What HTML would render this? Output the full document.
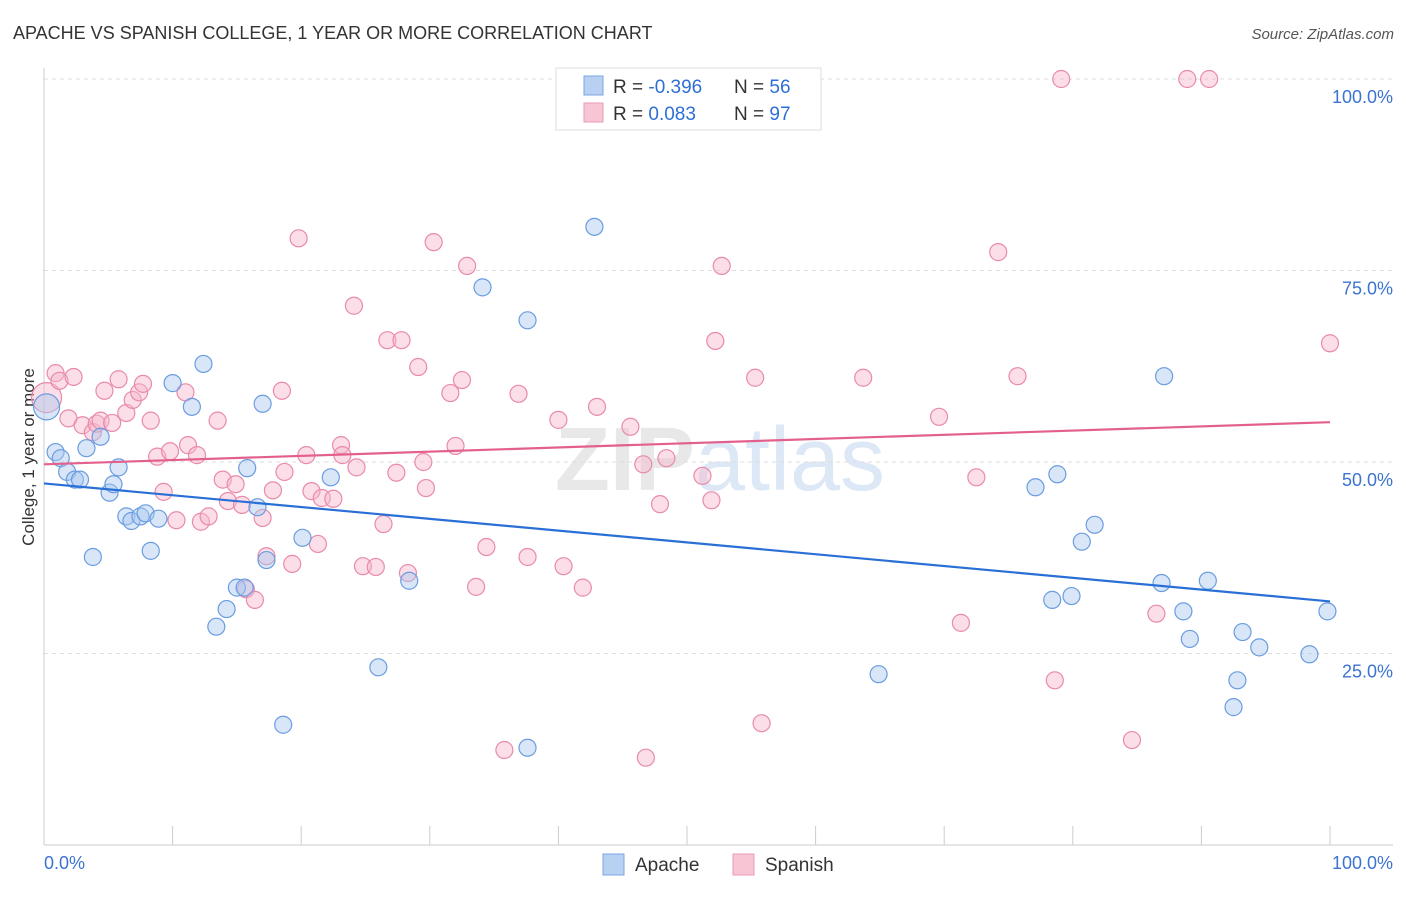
<!DOCTYPE html>
<html><head><meta charset="utf-8"><style>
body{margin:0;background:#fff;font-family:"Liberation Sans",sans-serif;}
svg text{font-family:"Liberation Sans",sans-serif;}
</style></head><body>
<svg id="chart" width="1406" height="892" viewBox="0 0 1406 892" xmlns="http://www.w3.org/2000/svg">
<text x="13" y="39" font-size="18" fill="#333">APACHE VS SPANISH COLLEGE, 1 YEAR OR MORE CORRELATION CHART</text>
<text x="1394" y="39" font-size="15" fill="#555" font-style="italic" text-anchor="end">Source: ZipAtlas.com</text>
<text x="720" y="490" font-size="90" fill="#e8e8e8" text-anchor="middle" font-family="Liberation Serif" font-weight="bold">ZIP<tspan fill="#dde8f6" font-family="Liberation Sans" font-weight="normal">atlas</tspan></text>
<text transform="translate(34,457) rotate(-90)" font-size="17" fill="#333" text-anchor="middle">College, 1 year or more</text>
<g id="grid"></g><g id="axes"></g><g id="marks"></g><g id="lines"></g>
<g>
<rect x="556" y="68" width="265" height="62" fill="#fff" stroke="#ddd"/>
<rect x="584" y="76" width="19" height="19" fill="#b8d1f3" stroke="#7aa6e0"/>
<rect x="584" y="103" width="19" height="19" fill="#f8c5d5" stroke="#eb9ab5"/>
<text x="613" y="93" font-size="19" fill="#333">R = <tspan fill="#2e6fd6">-0.396</tspan></text>
<text x="734" y="93" font-size="19" fill="#333">N = <tspan fill="#2e6fd6">56</tspan></text>
<text x="613" y="120" font-size="19" fill="#333">R = <tspan fill="#2e6fd6"> 0.083</tspan></text>
<text x="734" y="120" font-size="19" fill="#333">N = <tspan fill="#2e6fd6">97</tspan></text>
</g>
<g>
<rect x="603" y="854" width="21" height="21" fill="#b8d1f3" stroke="#7aa6e0"/>
<text x="635" y="871" font-size="19" fill="#333">Apache</text>
<rect x="733" y="854" width="21" height="21" fill="#f8c5d5" stroke="#eb9ab5"/>
<text x="765" y="871" font-size="19" fill="#333">Spanish</text>
</g>
</svg>
<script>
const yTicks=[25,50,75,100];
const yTickLabels=["25.0%","50.0%","75.0%","100.0%"];
const apacheX=[0.2,0.9,1.3,1.8,2.4,2.8,3.3,4.4,5.1,5.4,5.8,3.8,6.4,6.8,7.5,7.9,8.3,8.9,10.0,11.5,12.4,13.4,14.2,15.0,15.6,15.8,16.6,17.0,17.3,18.6,20.1,22.3,26.0,28.4,34.1,37.6,37.6,42.8,64.9,77.1,78.4,78.8,79.9,80.7,81.7,86.9,87.1,88.6,89.1,90.5,92.5,92.8,93.2,94.5,98.4,99.8];
const apacheY=[57.2,51.3,50.5,48.7,47.7,47.7,51.8,53.3,46.0,47.1,49.3,37.6,42.9,42.3,42.9,43.3,38.4,42.6,60.3,57.2,62.8,28.5,30.8,33.6,33.6,49.2,44.1,57.6,37.2,15.7,40.1,48.0,23.2,34.5,72.8,68.5,12.7,80.7,22.3,46.7,32.0,48.4,32.5,39.6,41.8,34.2,61.2,30.5,26.9,34.5,18.0,21.5,27.8,25.8,24.9,30.5];
const spanishX=[0.2,0.9,1.2,2.3,1.9,3.0,3.8,4.1,4.4,4.7,5.3,5.8,6.4,6.9,7.4,7.7,8.3,8.8,9.3,9.8,10.3,11.0,11.2,11.9,12.2,12.8,13.5,13.9,14.3,14.9,15.4,15.7,16.4,17.0,17.3,17.8,18.5,18.7,19.3,19.8,20.4,20.8,21.6,22.5,21.3,23.1,23.2,24.1,24.3,24.8,25.8,26.4,26.7,27.4,27.8,28.3,29.1,29.5,29.7,30.3,31.6,32.0,32.5,32.9,33.6,34.4,35.8,36.9,37.6,40.0,40.4,41.9,43.0,45.6,46.6,46.8,47.9,48.4,51.2,51.9,52.2,52.7,55.3,55.8,63.7,69.6,71.3,72.5,74.2,75.7,78.6,79.1,84.6,86.5,88.9,90.6,100];
const spanishY=[58.4,61.6,60.6,61.1,55.7,54.8,53.9,55.0,55.4,59.3,55.1,60.8,56.4,58.1,59.1,60.2,55.4,50.7,46.1,51.4,42.4,59.1,52.2,50.9,42.2,42.9,55.4,47.7,44.9,47.1,44.4,33.4,32.0,42.7,37.7,46.3,59.3,48.7,36.7,79.2,50.9,46.2,45.3,45.2,39.3,52.2,50.9,70.4,49.3,36.4,36.3,41.9,65.9,48.6,65.9,35.5,62.4,50.0,46.6,78.7,59.0,52.1,60.7,75.6,33.7,38.9,12.4,58.9,37.6,55.5,36.4,33.6,57.2,54.6,49.7,11.4,44.5,50.5,48.2,45.0,65.8,75.6,61.0,15.9,61.0,55.9,29.0,48.0,77.4,61.2,21.5,100,13.7,30.2,100,100,65.5];
const apacheTrend=[47.2,31.8];
const spanishTrend=[49.7,55.2];

const NS="http://www.w3.org/2000/svg";
const X0=44,X1=1330,Y0=845,Y100=79;
const sx=v=>X0+(X1-X0)*v/100;
const sy=v=>Y0-(Y0-Y100)*v/100;
function mk(tag,attrs,parent){const e=document.createElementNS(NS,tag);for(const k in attrs)e.setAttribute(k,attrs[k]);parent.appendChild(e);return e;}
const grid=document.getElementById('grid'),axes=document.getElementById('axes'),marks=document.getElementById('marks'),lines=document.getElementById('lines');
yTicks.forEach((t,i)=>{
  const l=mk('line',{x1:X0,x2:1393,y1:sy(t),y2:sy(t),stroke:'#ddd','stroke-dasharray':'4,4'},grid);
  
  
  const tx=mk('text',{x:1393,y:sy(t)+24,'font-size':18,fill:'#3b73d0','text-anchor':'end'},axes);
  tx.textContent=yTickLabels[i];
  
  
});
const ax=mk('line',{x1:X0,x2:X0,y1:68,y2:Y0,stroke:'#ccc'},axes);


const bx=mk('line',{x1:X0,x2:1393,y1:Y0,y2:Y0,stroke:'#ccc'},axes);


for(let i=0;i<=10;i++){
  const t=mk('line',{x1:sx(i*10),x2:sx(i*10),y1:826,y2:Y0,stroke:'#ccc'},axes);
  
  
}
const xl=mk('text',{x:44,y:869,'font-size':18,fill:'#3b73d0'},axes);xl.textContent='0.0%';


const xr=mk('text',{x:1393,y:869,'font-size':18,fill:'#3b73d0','text-anchor':'end'},axes);xr.textContent='100.0%';


function pts(xs,ys,fill,stroke,name){
  xs.forEach((x,i)=>{
    const r=(i===0)?(name==='spanish-point'?15:13):8.5;
    const c=mk('circle',{cx:sx(x),cy:sy(ys[i]),r:r,fill:fill,'fill-opacity':0.45,stroke:stroke,'stroke-width':1.2},marks);
    
    
  });
}
pts(spanishX,spanishY,'#f7b6cb','#e98aab','spanish-point');
pts(apacheX,apacheY,'#a9c7f0','#6a9de0','apache-point');
const la=mk('line',{x1:sx(0),y1:sy(apacheTrend[0]),x2:sx(100),y2:sy(apacheTrend[1]),stroke:'#2a6fd6','stroke-width':2.2},lines);


const ls=mk('line',{x1:sx(0),y1:sy(spanishTrend[0]),x2:sx(100),y2:sy(spanishTrend[1]),stroke:'#e4608c','stroke-width':2.2},lines);


</script>
</body></html>
